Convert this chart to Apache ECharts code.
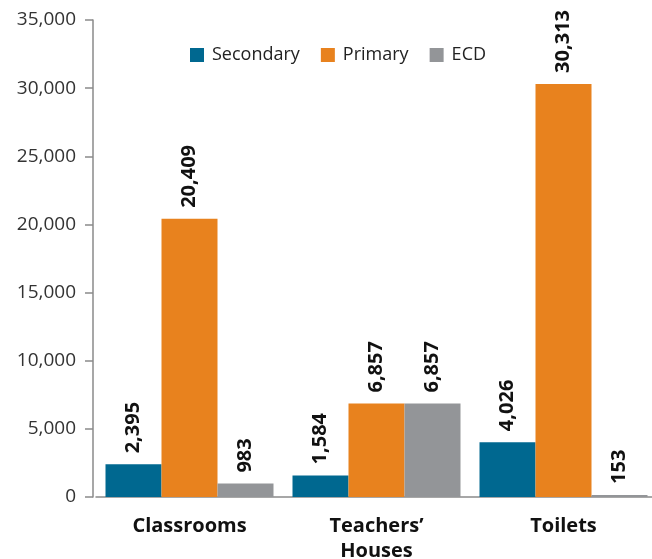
<!DOCTYPE html>
<html>
<head>
<meta charset="utf-8">
<script src="https://cdn.jsdelivr.net/npm/echarts@6/dist/echarts.min.js"></script>
<style>
  html, body { margin: 0; padding: 0; background: #fff; }
  #chart { width: 652px; height: 559px; }
</style>
</head>
<body>
<div id="chart"></div>
<script>
// Infrastructure built, by type and school level
const categories = ['Classrooms', 'Teachers\u2019\nHouses', 'Toilets'];
const secondary = [2395, 1584, 4026];
const primary = [20409, 6857, 30313];
const ecd = [983, 6857, 153];
const yTicks = { min: 0, max: 35000, interval: 5000 };

const FONT = '"Open Sans", "Noto Sans", sans-serif';

const valueLabel = {
  show: true,
  position: 'top',
  distance: 11,
  rotate: 90,
  align: 'left',
  verticalAlign: 'middle',
  fontFamily: FONT,
  fontSize: 20,
  fontWeight: 'bold',
  color: '#111',
  formatter: p => p.value.toLocaleString('en-US')
};

function barSeries(name, data, color) {
  return {
    name: name,
    type: 'bar',
    data: data,
    barWidth: 56,
    barGap: '0%',
    itemStyle: { color: color },
    label: valueLabel
  };
}

const chart = echarts.init(document.getElementById('chart'));
chart.setOption({
  animation: false,
  textStyle: { fontFamily: FONT },
  legend: {
    top: 41,
    left: 185,
    itemWidth: 14,
    itemHeight: 14,
    itemGap: 21,
    icon: 'rect',
    textStyle: { fontFamily: FONT, fontSize: 18, color: '#222', padding: [0, 0, 0, 3] },
    data: ['Secondary', 'Primary', 'ECD']
  },
  grid: {
    left: 96, right: -5, top: 20, bottom: 62,
    containLabel: false,
    outerBoundsMode: 'none'
  },
  xAxis: {
    type: 'category',
    data: categories,
    axisLine: { lineStyle: { color: '#8a8a8a', width: 1.5 } },
    axisTick: { show: false },
    axisLabel: {
      fontFamily: FONT,
      fontSize: 20,
      fontWeight: 'bold',
      color: '#111',
      margin: 17,
      lineHeight: 25
    }
  },
  yAxis: {
    type: 'value',
    offset: 3,
    min: yTicks.min,
    max: yTicks.max,
    interval: yTicks.interval,
    splitLine: { show: false },
    axisLine: { show: true, lineStyle: { color: '#8a8a8a', width: 1.5 } },
    axisTick: { show: true, length: 8, lineStyle: { color: '#8a8a8a', width: 1.5 } },
    axisLabel: {
      fontFamily: FONT,
      fontSize: 19,
      color: '#333',
      margin: 17,
      formatter: v => v.toLocaleString('en-US')
    }
  },
  series: [
    barSeries('Secondary', secondary, '#006890'),
    barSeries('Primary', primary, '#E8821E'),
    barSeries('ECD', ecd, '#939598')
  ]
});
</script>
</body>
</html>
